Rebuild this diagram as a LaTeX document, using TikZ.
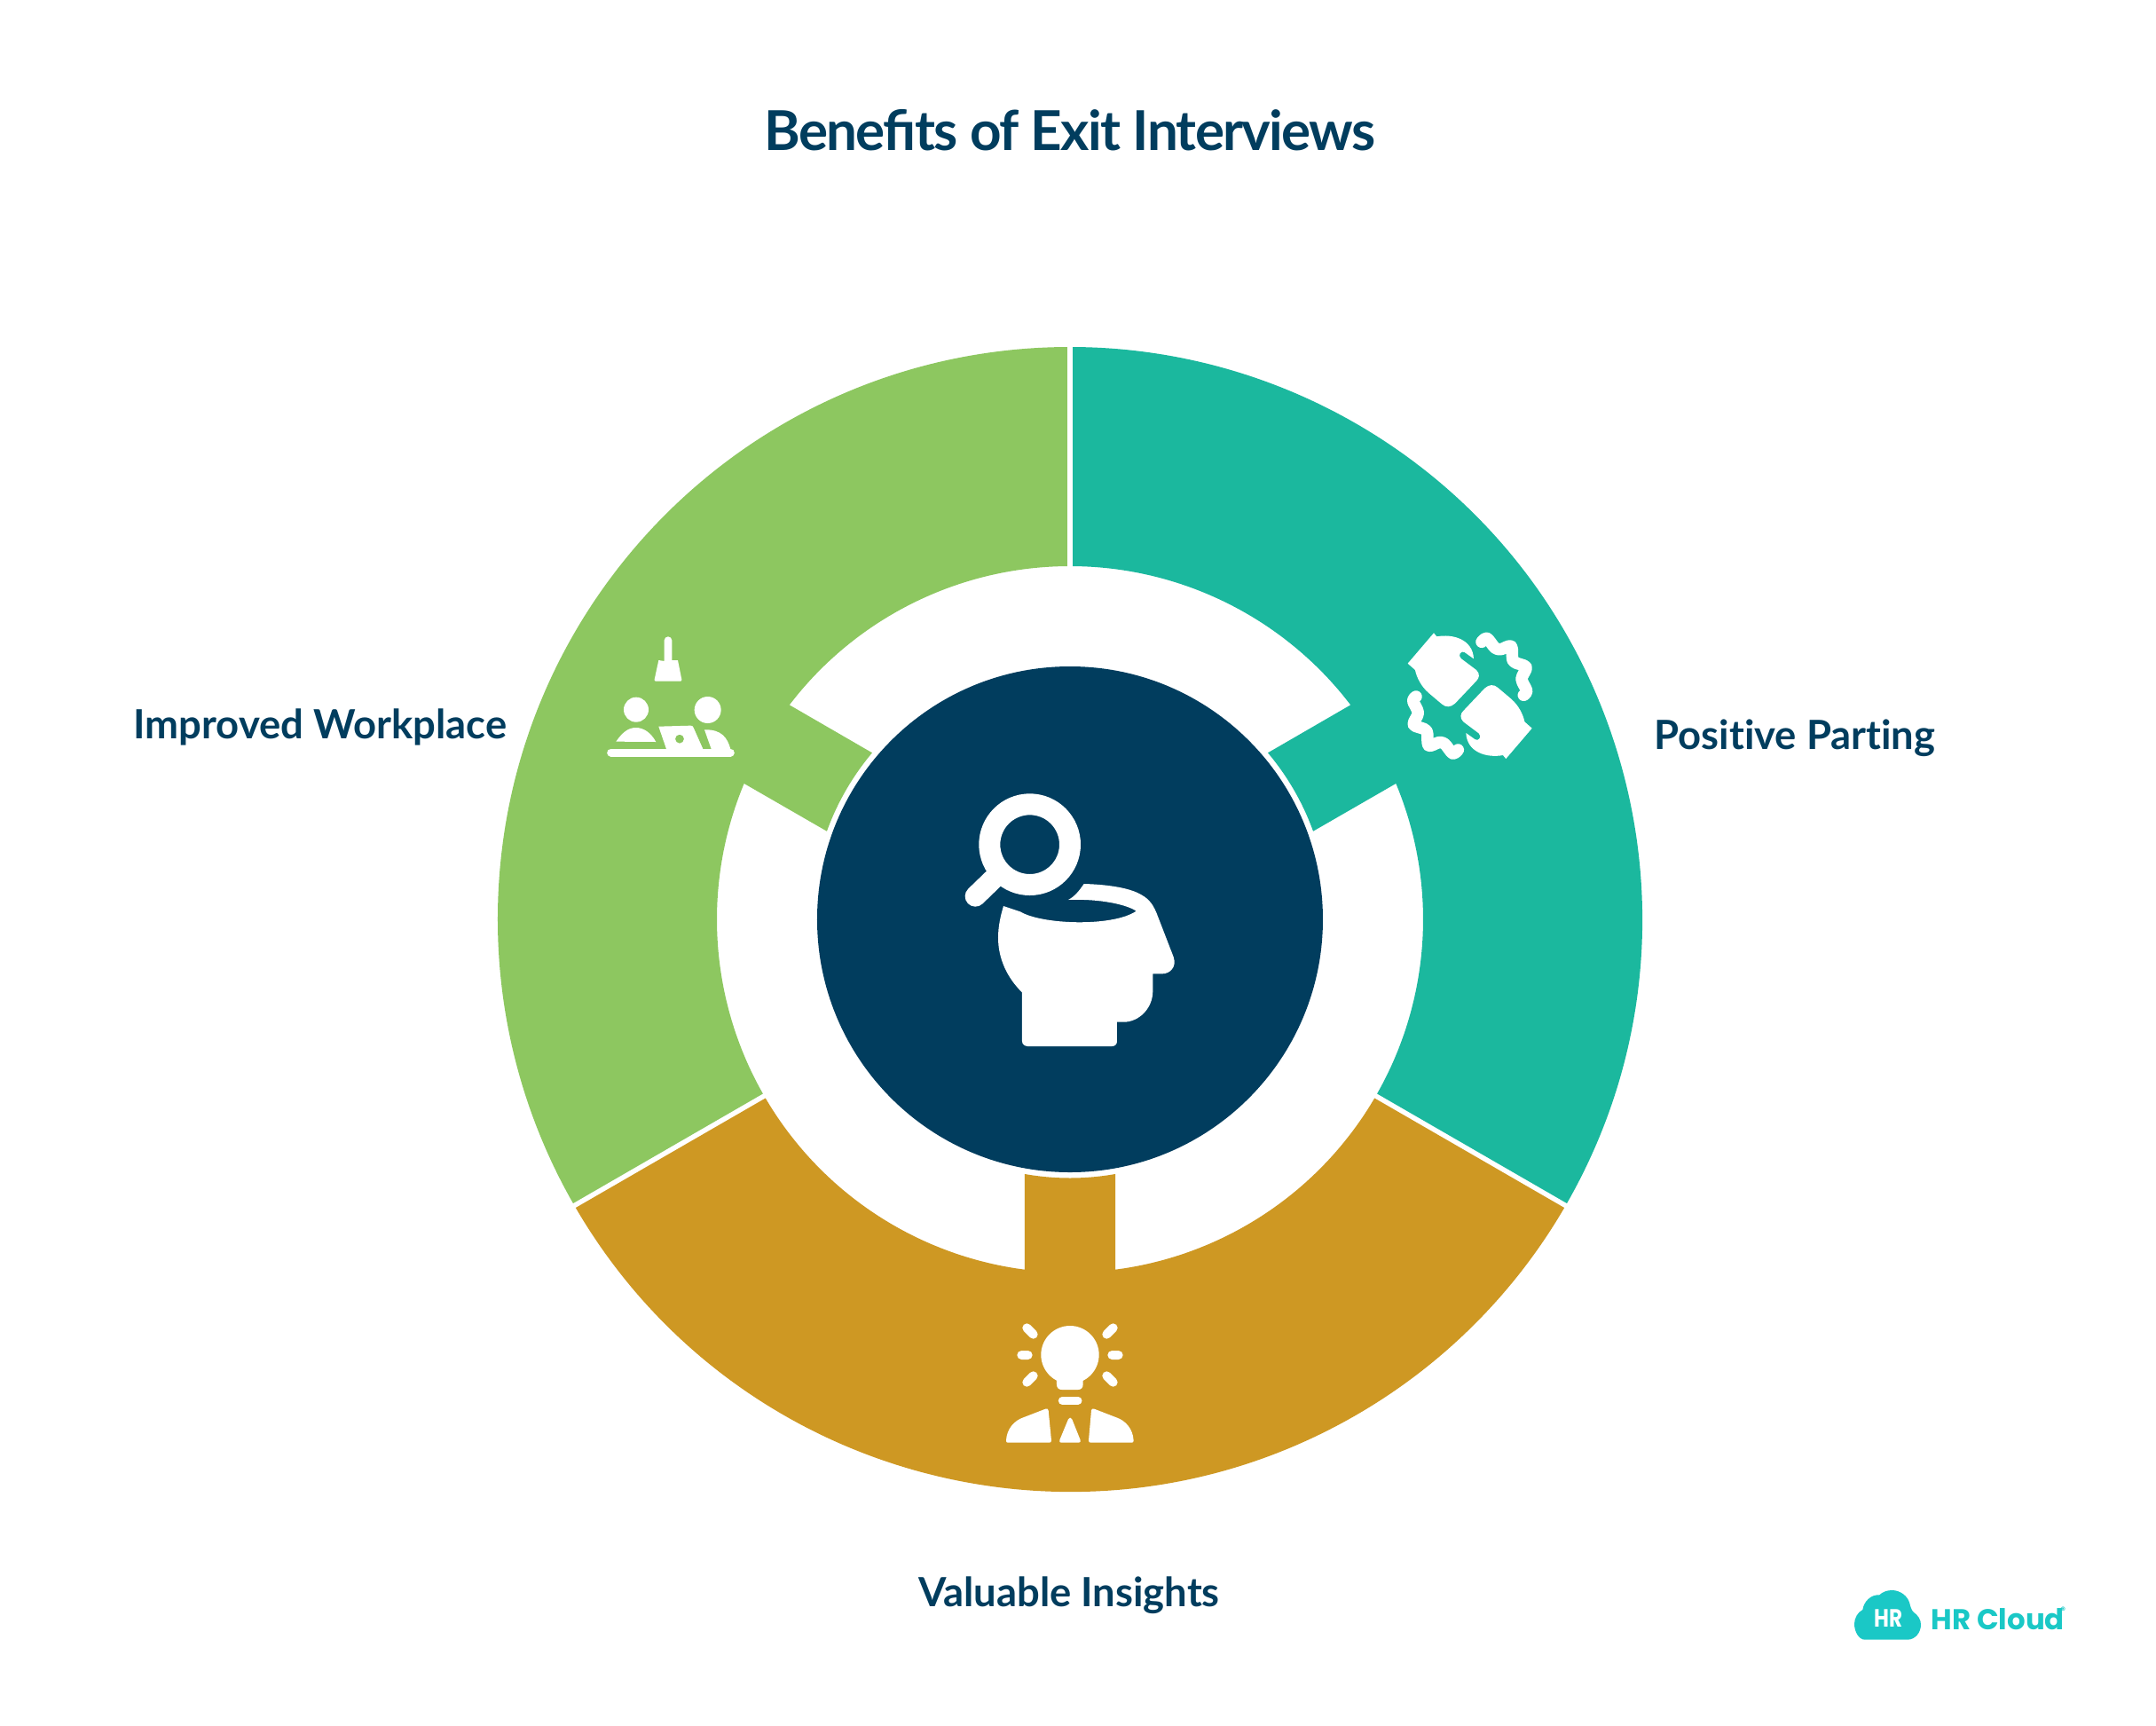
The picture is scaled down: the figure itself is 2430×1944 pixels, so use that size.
\documentclass[tikz,border=0pt]{standalone}
\usepackage{fontspec}
\setmainfont[Ligatures=NoCommon]{Lato}
\newfontfamily\titlefont[LetterSpace=-2.7,Ligatures=Common]{Lato}
\newfontfamily\logofont{Poppins}
\newfontfamily\logohrfont[FakeStretch=0.82]{Poppins}
\definecolor{navy}{RGB}{1,61,94}
\definecolor{teal1}{RGB}{27,184,158}
\definecolor{green1}{RGB}{141,199,96}
\definecolor{gold1}{RGB}{206,152,35}
\definecolor{logoc}{RGB}{26,200,198}
\tikzset{
 titletext/.style={text=navy,font=\titlefont\fontsize{17.6}{20}\selectfont\bfseries,inner sep=0pt,anchor=base},
 labeltext/.style={text=navy,font=\fontsize{12.9}{15}\selectfont\bfseries,inner sep=0pt,anchor=base},
 iconfill/.style={fill=white,draw=none},
 iconline/.style={draw=white,line cap=round,line join=round},
}
% #1 start angle, #2 colour (each wedge spans 120 degrees, tab on its bisector)
\newcommand{\wedgeshape}[2]{%
 \pgfmathsetmacro{\aS}{#1}\pgfmathsetmacro{\aE}{#1+120}\pgfmathsetmacro{\aC}{#1+60}%
 \pgfmathsetmacro{\tA}{\aC+7.38}\pgfmathsetmacro{\tB}{\aC-7.38}%
 \pgfmathsetmacro{\tC}{\aC+10.08}\pgfmathsetmacro{\tD}{\aC-10.08}%
 \fill[#2] (\aS:645) arc[start angle=\aS,end angle=\aE,radius=645] -- (\aE:398)
   arc[start angle=\aE,end angle=\tA,radius=398] -- (\tC:291.5)
   arc[start angle=\tC,end angle=\tD,radius=291.5] -- (\tB:398)
   arc[start angle=\tB,end angle=\aS,radius=398] -- cycle;
}
\begin{document}
\begin{tikzpicture}[x=0.01cm,y=0.01cm]
\useasboundingbox (-1206,1036) rectangle (1224,-908);
\fill[white] (-1206,1036) rectangle (1224,-908);
\wedgeshape{-30}{teal1}
\wedgeshape{90}{green1}
\wedgeshape{210}{gold1}
\foreach \a in {90,210,330}{\draw[white,line width=0.055cm] (\a:390) -- (\a:650);}
\fill[navy] (0,0) circle[radius=285];
% head icon
\begin{scope}[shift={(-166,176)},x=0.01cm/3,y=-0.01cm/3]
 \fill[iconfill,even odd rule] (362,275) circle[radius=172] (362,275) circle[radius=100];
 \draw[iconline,line width=0.233cm] (238,392) -- (178,450);
 \fill[iconfill] (273,483) -- (330,502) .. controls (400,545) and (640,555) .. (722,500)
   .. controls (690,478) and (600,458) .. (492,462) .. controls (515,450) and (530,430) .. (545,408)
   .. controls (620,410) and (690,420) .. (730,440) .. controls (760,455) and (775,470) .. (790,505) -- (848,655)
   .. controls (860,690) and (835,712) .. (810,712) -- (778,712) -- (778,770)
   .. controls (778,830) and (730,875) .. (680,875) -- (657,875) -- (657,940)
   .. controls (657,950) and (650,957) .. (640,957) -- (355,957)
   .. controls (345,957) and (336,950) .. (336,940) -- (336,775)
   .. controls (285,725) and (255,660) .. (255,590) .. controls (255,555) and (262,520) .. (273,483) -- cycle;
\end{scope}
% partner icon
\begin{scope}[shift={(354,346)},x=0.01cm/3,y=-0.01cm/3]
 \foreach \r in {0,180}{
  \begin{scope}[rotate around={\r:(290,282.5)}]
   \fill[iconfill] (168,70) -- (178,82) .. controls (230,72) and (300,90) .. (303,157) -- (272,135)
     .. controls (260,128) and (248,145) .. (260,156) -- (312,195) .. controls (325,208) and (322,222) .. (312,232)
     -- (240,308) .. controls (225,322) and (208,322) .. (195,310) -- (150,272)
     .. controls (125,250) and (110,220) .. (105,195) -- (80,173) -- cycle;
   \draw[iconline,line width=0.135cm] plot[smooth,tension=0.55] coordinates {(330,100) (348,88) (375,120) (395,125) (430,115) (437,165) (480,185) (465,225) (482,265) (472,280)};
  \end{scope}
 }
\end{scope}
% workplace icon
\begin{scope}[shift={(-536,336)},x=0.01cm/3,y=-0.01cm/3]
 \fill[iconfill] (236,135) -- (236,65) arc[start angle=180,end angle=360,radius=13] -- (262,132) -- (282,132)
   -- (295,197) .. controls (296,201) and (294,203) .. (290,203) -- (208,203) .. controls (204,203) and (202,201) .. (203,197)
   -- (217,132) -- cycle;
 \fill[iconfill] (141,299) circle[radius=42];
 \fill[iconfill] (73,407) .. controls (95,375) and (115,360) .. (140,360) .. controls (165,360) and (190,375) .. (208,408) -- cycle;
 \fill[iconfill] (383,300) circle[radius=45];
 \fill[iconfill] (372,367) .. controls (430,365) and (450,395) .. (460,432) -- (395,432) -- cycle;
 \fill[iconfill,even odd rule] (217,356) -- (325,353) .. controls (330,353) and (333,355) .. (335,360) -- (367,432) -- (243,432) -- cycle
   (288,398) circle[radius=15];
 \draw[iconline,line width=0.09cm] (56,444) -- (460,444);
\end{scope}
% insights icon
\begin{scope}[shift={(-76,-444)},x=0.01cm/3,y=-0.01cm/3]
 \fill[iconfill] (228,140) circle[radius=98];
 \fill[iconfill] (183,215) -- (272,215) -- (272,240) .. controls (272,252) and (265,258) .. (255,258) -- (200,258) .. controls (190,258) and (183,252) .. (183,240) -- cycle;
 \draw[iconline,line width=0.1cm] (82,49) -- (104,71) (374,49) -- (352,71) (64,141) -- (86,141) (370,141) -- (392,141) (82,233) -- (104,211) (374,233) -- (352,211);
 \draw[iconline,line width=0.09cm] (202,295) -- (255,295);
 \fill[iconfill] (145,323) .. controls (151,321) and (154,323) .. (155,328) -- (165,430) .. controls (165,435) and (162,437) .. (158,437)
   -- (18,437) .. controls (14,437) and (12,435) .. (12,430) .. controls (14,390) and (40,362) .. (70,352) -- cycle;
 \fill[iconfill] (222,358) .. controls (226,351) and (231,351) .. (235,358) -- (263,428) .. controls (265,434) and (262,437) .. (257,437)
   -- (198,437) .. controls (193,437) and (191,434) .. (193,428) -- cycle;
 \fill[iconfill] (310,323) .. controls (304,321) and (301,323) .. (300,328) -- (291,430) .. controls (291,435) and (294,437) .. (298,437)
   -- (437,437) .. controls (441,437) and (443,435) .. (443,430) .. controls (441,390) and (415,362) .. (385,352) -- cycle;
\end{scope}
% texts
\node[titletext] (title) at (0,867) {Benefits of Exit Interviews};
\node[labeltext] (workplace) at (-845,204) {Improved Workplace};
\node[labeltext] (parting) at (817,192) {Positive Parting};
\node[labeltext] (insights) at (-1,-774) {Valuable Insights};
% logo
\begin{scope}[shift={(864,-734)},x=0.01cm/3,y=-0.01cm/3]
 \fill[logoc] (95,233) .. controls (75,233) and (60,205) .. (60,180) .. controls (60,160) and (72,140) .. (88,132)
   .. controls (92,105) and (115,80) .. (145,82) .. controls (155,72) and (170,66) .. (187,66)
   .. controls (215,66) and (240,85) .. (247,110) .. controls (250,125) and (255,135) .. (260,140)
   .. controls (275,150) and (285,165) .. (285,182) .. controls (285,210) and (265,233) .. (240,233) -- cycle;
 \node[inner sep=0pt,text=white,font=\logohrfont\fontsize{8}{9}\selectfont\bfseries] (logohr) at (175,160) {HR};
 \node[inner sep=0pt,text=logoc,font=\logofont\fontsize{9.2}{10}\selectfont\bfseries,anchor=base west] (logoname) at (318,198) {HR Cloud};
 \node[inner sep=0pt,text=logoc,font=\logofont\fontsize{3}{3}\selectfont\bfseries] (logoreg) at (766,133) {®};
\end{scope}
\end{tikzpicture}
\end{document}
